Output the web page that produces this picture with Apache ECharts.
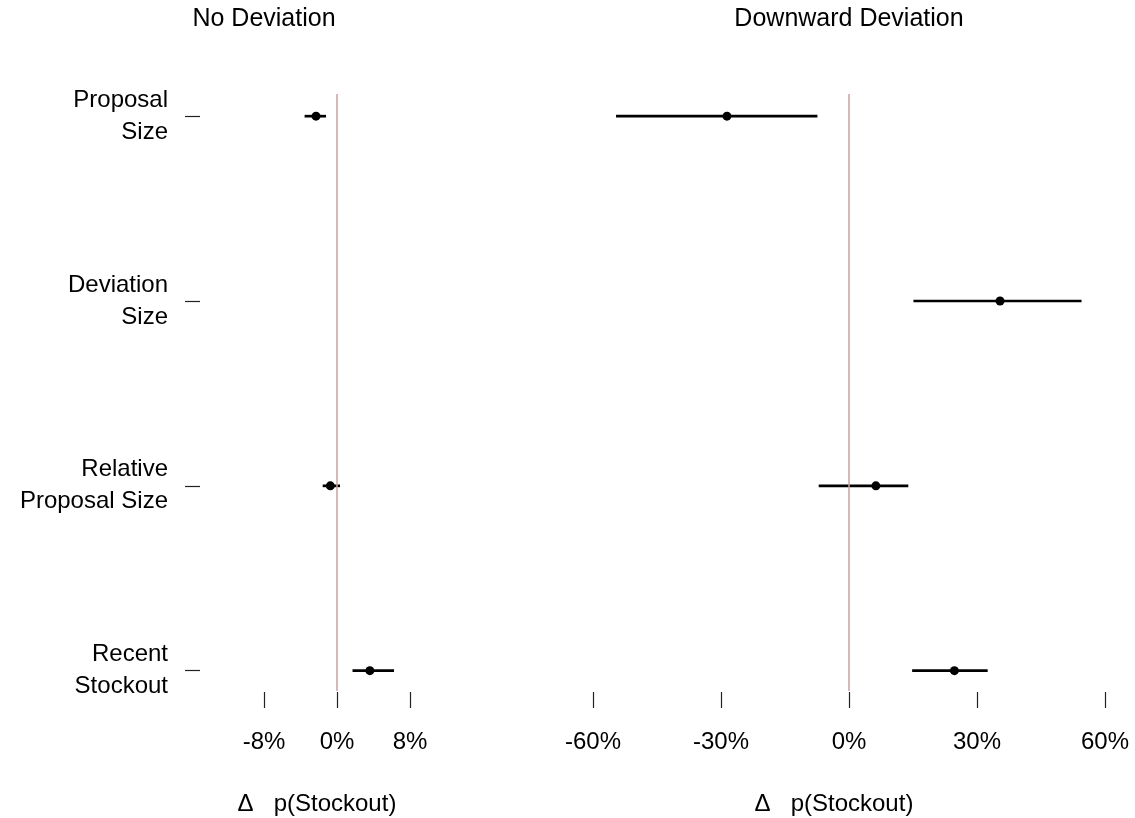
<!DOCTYPE html>
<html>
<head>
<meta charset="utf-8">
<script src="https://cdn.jsdelivr.net/npm/echarts@6/dist/echarts.min.js"></script>
<style>
html,body{margin:0;padding:0;background:#fff;}
#chart{width:1135px;height:818px;}
</style>
</head>
<body>
<div id="chart"></div>
<script>
// ---- data ----
const categories = ['Proposal\nSize', 'Deviation\nSize', 'Relative\nProposal Size', 'Recent\nStockout'];
const panelTitles = ['No Deviation', 'Downward Deviation'];
const axisTitle = 'Δ   p(Stockout)';

// No Deviation panel (percent)
const noDevEst  = [-2.3, null, -0.73, 3.6];
const noDevLow  = [-3.55, null, -1.57, 1.7];
const noDevHigh = [-1.2, null, 0.33, 6.25];

// Downward Deviation panel (percent)
const downEst  = [-28.6, 35.4, 6.3, 24.7];
const downLow  = [-54.6, 15.1, -7.1, 14.8];
const downHigh = [-7.4, 54.5, 13.9, 32.5];

const leftTicks = [-8, 0, 8];
const rightTicks = [-60, -30, 0, 30, 60];
const rowIndex = [0, 1, 2, 3];

// ---- build ----
const FONT = 'Liberation Sans, Arial, Helvetica, sans-serif';

function barData(low, high) {
  const out = [];
  rowIndex.forEach(i => { if (low[i] != null) out.push([low[i], high[i], i]); });
  return out;
}
function pointData(est) {
  const out = [];
  rowIndex.forEach(i => { if (est[i] != null) out.push([est[i], i]); });
  return out;
}

function renderBar(params, api) {
  const p1 = api.coord([api.value(0), api.value(2)]);
  const p2 = api.coord([api.value(1), api.value(2)]);
  return {
    type: 'line',
    shape: { x1: p1[0], y1: p1[1], x2: p2[0], y2: p2[1] },
    style: { stroke: '#000', lineWidth: 2.7, lineCap: 'butt' }
  };
}

const xAxisCommon = {
  type: 'value',
  axisLine: { show: false, onZero: false },
  splitLine: { show: false },
  axisTick: { show: true, length: 16, lineStyle: { color: '#222', width: 1.2 } },
  axisLabel: { fontSize: 24, fontFamily: FONT, color: '#000', margin: 38,
    formatter: v => v + '%' },
  nameLocation: 'middle',
  nameGap: 100,
  nameTextStyle: { fontSize: 24, fontFamily: FONT, color: '#000' },
  offset: 1
};

const yMin = -0.12, yMax = 3.11;

const chart = echarts.init(document.getElementById('chart'), null, { renderer: 'canvas' });
chart.setOption({
  animation: false,
  backgroundColor: '#fff',
  title: [
    { text: panelTitles[0], left: 264, top: 7, textAlign: 'center', padding: 0,
      textStyle: { fontSize: 25, fontWeight: 'normal', fontFamily: FONT, color: '#000' } },
    { text: panelTitles[1], left: 849, top: 7, textAlign: 'center', padding: 0,
      textStyle: { fontSize: 25, fontWeight: 'normal', fontFamily: FONT, color: '#000' } }
  ],
  grid: [
    { left: 264, right: 1135 - 410, top: 94, bottom: 818 - 691, outerBoundsMode: 'none', containLabel: false },
    { left: 593, right: 1135 - 1105, top: 94, bottom: 818 - 691, outerBoundsMode: 'none', containLabel: false }
  ],
  xAxis: [
    Object.assign({}, xAxisCommon, { gridIndex: 0, min: -8, max: 8, interval: 8,
      name: axisTitle, nameTextStyle: Object.assign({}, xAxisCommon.nameTextStyle, { padding: [0, 40, 0, 0] }) }),
    Object.assign({}, xAxisCommon, { gridIndex: 1, min: -60, max: 60, interval: 30,
      name: axisTitle, nameTextStyle: Object.assign({}, xAxisCommon.nameTextStyle, { padding: [0, 30, 0, 0] }) })
  ],
  yAxis: [
    { gridIndex: 0, type: 'value', inverse: true, min: yMin, max: yMax, offset: 64,
      axisLine: { show: false, onZero: false }, splitLine: { show: false },
      axisTick: { show: true, length: 15, customValues: rowIndex, lineStyle: { color: '#222', width: 1.2 } },
      axisLabel: { show: true, customValues: rowIndex, margin: 32, fontSize: 24, lineHeight: 32,
        fontFamily: FONT, color: '#000', align: 'right', padding: [9, 0, 0, 0],
        formatter: v => categories[Math.round(v)] } },
    { gridIndex: 1, type: 'value', inverse: true, min: yMin, max: yMax, show: false,
      axisLine: { onZero: false } }
  ],
  series: [
    { type: 'custom', xAxisIndex: 0, yAxisIndex: 0, renderItem: renderBar, data: barData(noDevLow, noDevHigh), z: 3,
      markLine: { silent: true, symbol: 'none', label: { show: false }, animation: false,
        lineStyle: { color: '#c9a0a0', width: 1.5, type: 'solid' }, data: [{ xAxis: 0 }] } },
    { type: 'scatter', xAxisIndex: 0, yAxisIndex: 0, data: pointData(noDevEst), symbolSize: 9,
      itemStyle: { color: '#000', opacity: 1 }, z: 4 },
    { type: 'custom', xAxisIndex: 1, yAxisIndex: 1, renderItem: renderBar, data: barData(downLow, downHigh), z: 3,
      markLine: { silent: true, symbol: 'none', label: { show: false }, animation: false,
        lineStyle: { color: '#c9a0a0', width: 1.5, type: 'solid' }, data: [{ xAxis: 0 }] } },
    { type: 'scatter', xAxisIndex: 1, yAxisIndex: 1, data: pointData(downEst), symbolSize: 9,
      itemStyle: { color: '#000', opacity: 1 }, z: 4 }
  ]
});
</script>
</body>
</html>
